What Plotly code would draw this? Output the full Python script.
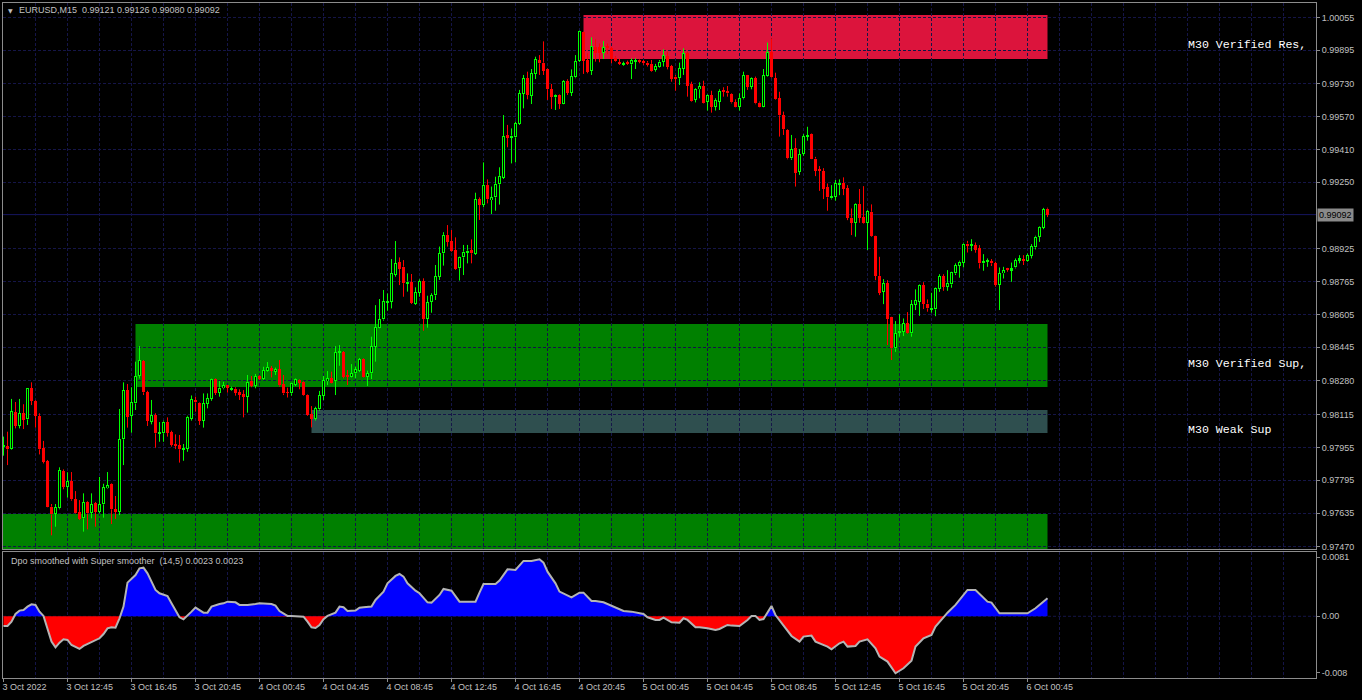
import plotly.graph_objects as go

# EURUSD M15 candles, prices in points (1e-5), bar 0 = 3 Oct 08:45
open_pts = [
    97959, 97962, 97946, 98127, 98061, 98122, 98092, 98244, 98183, 98109,
    97951, 97889, 97666, 97630, 97658, 97840, 97764, 97791, 97702, 97640,
    97609, 97690, 97637, 97682, 97641, 97677, 97755, 97777, 97654, 97641,
    97995, 98235, 98110, 98170, 98304, 98377, 98224, 98081, 98112, 98024,
    98024, 98079, 98029, 97972, 97965, 97944, 97949, 98096, 98187, 98172,
    98086, 98169, 98192, 98288, 98223, 98244, 98258, 98237, 98242, 98226,
    98216, 98203, 98281, 98257, 98304, 98288, 98330, 98343, 98325, 98336,
    98263, 98225, 98219, 98260, 98284, 98276, 98211, 98117, 98094, 98141,
    98208, 98279, 98292, 98279, 98418, 98421, 98309, 98300, 98317, 98328,
    98387, 98300, 98317, 98447, 98540, 98580, 98662, 98667, 98798, 98860,
    98838, 98757, 98761, 98656, 98711, 98768, 98582, 98665, 98698, 98789,
    98903, 98993, 98963, 98919, 98830, 98883, 98906, 98919, 98900, 99167,
    99139, 99237, 99163, 99176, 99240, 99272, 99481, 99469, 99469, 99535,
    99681, 99758, 99673, 99779, 99847, 99834, 99801, 99704, 99665, 99676,
    99632, 99745, 99688, 99762, 99842, 99982, 99847, 99793, 99912, 99909,
    99883, 99915, 99904, 99857, 99834, 99826, 99831, 99826, 99839, 99847,
    99842, 99834, 99828, 99798, 99815, 99839, 99867, 99818, 99766, 99758,
    99803, 99880, 99730, 99652, 99704, 99720, 99642, 99676, 99619, 99644,
    99697, 99696, 99679, 99642, 99619, 99660, 99772, 99717, 99759, 99639,
    99619, 99769, 99884, 99758, 99660, 99578, 99505, 99367, 99416, 99302,
    99388, 99472, 99485, 99366, 99313, 99305, 99225, 99171, 99179, 99241,
    99244, 99220, 99077, 99052, 99142, 99080, 99052, 99106, 98987, 98793,
    98715, 98756, 98590, 98439, 98515, 98520, 98561, 98512, 98653, 98666,
    98748, 98658, 98631, 98629, 98730, 98792, 98740, 98751, 98805, 98842,
    98857, 98951, 98940, 98943, 98927, 98854, 98862, 98865, 98854, 98748,
    98805, 98829, 98821, 98834, 98867, 98873, 98867, 98891, 98932, 98984,
    99029, 99121,
]
high_pts = [
    98008, 98032, 98192, 98177, 98192, 98166, 98244, 98273, 98187, 98122,
    97987, 97894, 97679, 97679, 97858, 97848, 97834, 97835, 97742, 97698,
    97731, 97694, 97731, 97689, 97811, 97778, 97835, 97780, 97718, 98143,
    98273, 98265, 98249, 98374, 98450, 98382, 98232, 98187, 98122, 98079,
    98086, 98102, 98037, 98019, 98016, 97972, 98110, 98209, 98203, 98175,
    98219, 98219, 98291, 98292, 98280, 98276, 98260, 98252, 98249, 98239,
    98235, 98309, 98304, 98314, 98307, 98349, 98372, 98353, 98345, 98382,
    98309, 98247, 98271, 98292, 98287, 98281, 98214, 98157, 98154, 98231,
    98304, 98328, 98325, 98450, 98455, 98426, 98333, 98362, 98349, 98392,
    98390, 98330, 98496, 98650, 98680, 98724, 98707, 98875, 98963, 98883,
    98870, 98805, 98802, 98737, 98776, 98781, 98696, 98708, 98846, 98936,
    99006, 99041, 99017, 98981, 98887, 98944, 98944, 98971, 99199, 99176,
    99347, 99264, 99229, 99277, 99323, 99578, 99530, 99513, 99546, 99701,
    99774, 99790, 99803, 99863, 99871, 99938, 99806, 99730, 99679, 99679,
    99749, 99753, 99801, 99871, 99990, 99985, 99880, 99958, 99948, 99928,
    99940, 99928, 99912, 99867, 99852, 99839, 99844, 99855, 99855, 99850,
    99847, 99842, 99847, 99828, 99847, 99899, 99888, 99823, 99774, 99834,
    99904, 99888, 99741, 99709, 99738, 99746, 99679, 99697, 99660, 99704,
    99714, 99720, 99684, 99655, 99684, 99790, 99774, 99762, 99766, 99644,
    99803, 99932, 99953, 99785, 99692, 99595, 99509, 99481, 99465, 99412,
    99485, 99521, 99488, 99374, 99329, 99319, 99244, 99236, 99261, 99264,
    99274, 99236, 99122, 99147, 99217, 99231, 99114, 99142, 98989, 98886,
    98777, 98772, 98593, 98572, 98606, 98585, 98616, 98675, 98727, 98751,
    98762, 98678, 98710, 98736, 98801, 98801, 98821, 98813, 98854, 98867,
    98955, 98964, 98972, 98956, 98943, 98899, 98878, 98875, 98862, 98834,
    98837, 98832, 98858, 98878, 98894, 98894, 98902, 98948, 98989, 99036,
    99125, 99126,
]
low_pts = [
    97915, 97869, 97943, 98048, 98048, 98045, 98065, 98162, 98052, 97921,
    97877, 97663, 97526, 97568, 97653, 97751, 97710, 97695, 97633, 97601,
    97544, 97555, 97609, 97568, 97633, 97612, 97752, 97581, 97606, 97625,
    97869, 98052, 98027, 98138, 98292, 98211, 98060, 98068, 97954, 97983,
    97983, 98008, 97959, 97947, 97881, 97890, 97934, 98086, 98130, 98065,
    98052, 98146, 98183, 98211, 98203, 98239, 98223, 98232, 98208, 98187,
    98102, 98125, 98249, 98244, 98284, 98284, 98325, 98297, 98309, 98252,
    98211, 98199, 98208, 98255, 98239, 98208, 98109, 98053, 98086, 98135,
    98186, 98260, 98268, 98211, 98354, 98292, 98260, 98297, 98292, 98323,
    98297, 98255, 98289, 98374, 98537, 98574, 98623, 98634, 98789, 98748,
    98691, 98716, 98656, 98651, 98691, 98525, 98540, 98613, 98675, 98773,
    98843, 98936, 98911, 98822, 98770, 98797, 98854, 98854, 98895, 99066,
    99128, 99147, 99095, 99111, 99141, 99266, 99421, 99342, 99347, 99530,
    99611, 99655, 99632, 99754, 99774, 99774, 99652, 99608, 99603, 99608,
    99631, 99676, 99671, 99758, 99837, 99779, 99782, 99774, 99839, 99836,
    99852, 99876, 99831, 99839, 99823, 99819, 99823, 99754, 99803, 99831,
    99823, 99815, 99790, 99790, 99810, 99815, 99801, 99741, 99697, 99725,
    99774, 99668, 99644, 99640, 99660, 99635, 99600, 99590, 99600, 99603,
    99668, 99668, 99635, 99616, 99600, 99655, 99701, 99704, 99631, 99616,
    99616, 99766, 99758, 99652, 99473, 99481, 99362, 99359, 99229, 99286,
    99379, 99453, 99363, 99280, 99208, 99168, 99111, 99166, 99160, 99187,
    99187, 99065, 98992, 98984, 99052, 99046, 98919, 98984, 98772, 98699,
    98655, 98455, 98382, 98422, 98496, 98499, 98509, 98496, 98626, 98598,
    98631, 98618, 98613, 98596, 98715, 98720, 98720, 98735, 98797, 98784,
    98834, 98907, 98914, 98906, 98829, 98818, 98837, 98841, 98740, 98626,
    98780, 98813, 98764, 98829, 98854, 98846, 98862, 98878, 98922, 98959,
    99021, 99080,
]
close_pts = [
    97964, 97946, 98133, 98061, 98122, 98089, 98244, 98183, 98110, 97946,
    97886, 97666, 97628, 97663, 97845, 97764, 97791, 97702, 97637, 97607,
    97687, 97633, 97677, 97641, 97679, 97762, 97770, 97653, 97641, 97995,
    98235, 98105, 98175, 98304, 98380, 98224, 98086, 98112, 98024, 98026,
    98081, 98027, 97967, 97962, 97946, 97949, 98105, 98190, 98175, 98086,
    98170, 98195, 98288, 98223, 98247, 98260, 98249, 98244, 98223, 98213,
    98203, 98276, 98257, 98302, 98289, 98332, 98346, 98328, 98338, 98258,
    98219, 98221, 98268, 98287, 98271, 98211, 98113, 98094, 98148, 98209,
    98284, 98292, 98271, 98421, 98426, 98300, 98300, 98317, 98338, 98387,
    98300, 98317, 98450, 98543, 98582, 98670, 98667, 98807, 98855, 98826,
    98757, 98765, 98662, 98714, 98768, 98582, 98665, 98698, 98792, 98903,
    98993, 98960, 98916, 98826, 98883, 98911, 98916, 98903, 99167, 99139,
    99237, 99167, 99176, 99242, 99281, 99476, 99468, 99478, 99538, 99684,
    99758, 99676, 99782, 99850, 99831, 99795, 99704, 99668, 99676, 99632,
    99745, 99688, 99769, 99842, 99987, 99842, 99790, 99917, 99880, 99880,
    99909, 99904, 99850, 99844, 99831, 99831, 99828, 99847, 99847, 99837,
    99831, 99823, 99795, 99818, 99839, 99871, 99815, 99754, 99756, 99806,
    99880, 99722, 99648, 99704, 99720, 99639, 99676, 99619, 99652, 99696,
    99691, 99684, 99640, 99619, 99662, 99772, 99717, 99758, 99635, 99619,
    99772, 99884, 99762, 99655, 99577, 99509, 99367, 99411, 99297, 99388,
    99475, 99480, 99366, 99305, 99306, 99217, 99176, 99182, 99244, 99248,
    99217, 99077, 99052, 99142, 99077, 99049, 99109, 98989, 98793, 98710,
    98756, 98582, 98439, 98512, 98525, 98561, 98512, 98655, 98675, 98748,
    98658, 98634, 98637, 98732, 98792, 98740, 98759, 98810, 98845, 98862,
    98951, 98940, 98948, 98919, 98854, 98865, 98867, 98854, 98748, 98805,
    98821, 98826, 98829, 98870, 98878, 98867, 98894, 98938, 98984, 99033,
    99119, 99092,
]

# time axis labels, one every 16 bars
time_labels = [
    "3 Oct 2022", "3 Oct 12:45", "3 Oct 16:45", "3 Oct 20:45", "4 Oct 00:45",
    "4 Oct 04:45", "4 Oct 08:45", "4 Oct 12:45", "4 Oct 16:45", "4 Oct 20:45",
    "5 Oct 00:45", "5 Oct 04:45", "5 Oct 08:45", "5 Oct 12:45", "5 Oct 16:45",
    "5 Oct 20:45", "6 Oct 00:45",
]
price_ticks = [1.00055, 0.99895, 0.99730, 0.99570, 0.99410, 0.99250, 0.98925, 0.98765,
               0.98605, 0.98445, 0.98280, 0.98115, 0.97955, 0.97795, 0.97635, 0.97470]
last_price = 0.99092

# supply / demand zones
zone_labels = ["M30 Verified Res,", "M30 Verified Sup,", "M30 Weak Sup", ""]
zone_label_price = [0.99924, 0.98366, 0.98044, None]
zone_start = [145, 33, 77, -1]
zone_top = [1.00067, 0.98558, 0.98138, 0.97630]
zone_bottom = [0.99852, 0.98250, 0.98026, 0.97400]
zone_colors = ["#DC143C", "#008000", "#2F4F4F", "#008000"]

# Dpo smoothed with Super smoother (14,5)
osc_bar = [0, 1, 2, 3, 4, 5, 6, 7, 8, 9, 10, 11, 12, 13, 14, 15, 16, 17, 19, 20,
           22, 23, 24, 25, 26, 27, 28, 29, 30, 31, 32, 33, 34, 35, 36, 37, 38, 39, 41, 42,
           43, 44, 45, 46, 47, 48, 49, 50, 51, 52, 54, 55, 56, 58, 59, 61, 63, 64, 67, 68,
           69, 71, 72, 73, 75, 76, 77, 78, 79, 80, 81, 83, 84, 85, 86, 88, 89, 90, 92, 93,
           95, 96, 98, 99, 100, 101, 103, 104, 106, 107, 109, 110, 112, 114, 115, 118, 119, 120, 123, 124,
           126, 128, 130, 132, 134, 135, 136, 138, 139, 141, 142, 144, 145, 147, 148, 150, 152, 155, 157, 160,
           161, 163, 164, 165, 167, 169, 170, 171, 173, 174, 176, 178, 179, 181, 182, 184, 186, 187, 188, 189,
           190, 192, 193, 195, 197, 199, 200, 202, 203, 206, 207, 209, 210, 211, 213, 214, 216, 218, 219, 221,
           223, 225, 227, 228, 230, 232, 233, 235, 236, 238, 240, 241, 243, 245, 246, 247, 249, 250, 255, 256,
           258, 260, 261]
osc_val = [-0.00133, -0.00133, -0.00073, 0.00032, 0.00078, 0.00087, 0.00133, 0.00165, 0.00156, 0.00064,
           0.00005, -0.00178, -0.00348, -0.00426, -0.00362, -0.00316, -0.00325, -0.00394, -0.00448, -0.00407,
           -0.00352, -0.00325, -0.00302, -0.00243, -0.00165, -0.00151, -0.00156, -0.00027, 0.00133, 0.00462,
           0.00508, 0.00567, 0.00659, 0.00668, 0.00590, 0.00476, 0.00362, 0.00316, 0.00279, 0.00178,
           0.00087, -0.00014, -0.00041, 0.00005, 0.00064, 0.00119, 0.00087, 0.00050, 0.00050, 0.00133,
           0.00169, 0.00178, 0.00201, 0.00192, 0.00156, 0.00156, 0.00169, 0.00178, 0.00169, 0.00146,
           0.00073, 0.00005, 0.00005, 0.00005, -0.00005, -0.00073, -0.00151, -0.00160, -0.00119, -0.00041,
           0.00005, 0.00050, 0.00133, 0.00124, 0.00073, 0.00078, 0.00119, 0.00124, 0.00133, 0.00224,
           0.00339, 0.00453, 0.00554, 0.00581, 0.00545, 0.00453, 0.00352, 0.00316, 0.00192, 0.00188,
           0.00293, 0.00375, 0.00352, 0.00201, 0.00201, 0.00201, 0.00325, 0.00444, 0.00444, 0.00490,
           0.00645, 0.00636, 0.00760, 0.00760, 0.00782, 0.00737, 0.00613, 0.00453, 0.00339, 0.00293,
           0.00261, 0.00325, 0.00325, 0.00210, 0.00210, 0.00192, 0.00142, 0.00073, 0.00064, 0.00032,
           -0.00014, -0.00050, -0.00050, -0.00018, -0.00082, -0.00087, -0.00027, -0.00050, -0.00151, -0.00151,
           -0.00165, -0.00188, -0.00174, -0.00119, -0.00128, -0.00133, -0.00050, 0.00005, 0.00005, -0.00050,
           -0.00037, 0.00142, 0.00018, -0.00119, -0.00270, -0.00348, -0.00279, -0.00265, -0.00348, -0.00416,
           -0.00453, -0.00371, -0.00348, -0.00416, -0.00407, -0.00348, -0.00316, -0.00439, -0.00554, -0.00622,
           -0.00782, -0.00714, -0.00609, -0.00416, -0.00302, -0.00256, -0.00142, -0.00014, 0.00050, 0.00156,
           0.00293, 0.00362, 0.00362, 0.00247, 0.00201, 0.00188, 0.00041, 0.00041, 0.00041, 0.00041,
           0.00110, 0.00210, 0.00247]

BG = "#000000"
FRAME = "#8c8c8c"
TEXT = "#c0c0c0"
GRID = "#151548"
GRIDDASH = "3px,2px"
BULL = "#00FF00"
BEAR = "#FF0000"

# pane geometry (pixels)
W, H = 1362, 700
L_M, R_M, T_M, B_M = 3, 46, 3, 22
plot_h = H - T_M - B_M
main_bottom_px, osc_top_px = 549, 552
y_range = [0.9745923, 1.0012535]
osc_range = [-0.008471, 0.008828]
x_range = [-0.125, 328.125]
px_price = (y_range[1] - y_range[0]) / (main_bottom_px - T_M)

n = len(close_pts)
o = [v / 1e5 for v in open_pts]
h = [v / 1e5 for v in high_pts]
lo = [v / 1e5 for v in low_pts]
c = [v / 1e5 for v in close_pts]
last_bar = n - 1

fig = go.Figure()

# candle bodies
for is_bull, col in ((True, BULL), (False, BEAR)):
    xs, base, hgt = [], [], []
    for i in range(n):
        if (c[i] >= o[i]) != is_bull:
            continue
        xs.append(i)
        base.append(min(o[i], c[i]))
        hgt.append(max(abs(c[i] - o[i]), px_price))
    fig.add_trace(go.Bar(x=xs, y=hgt, base=base, width=0.75, marker=dict(color=col, line=dict(width=0)),
                         hoverinfo="skip", showlegend=False))

# hollow interior of bull candles
xs, base, hgt = [], [], []
for i in range(n):
    if c[i] > o[i] and c[i] - o[i] > 2.5 * px_price:
        xs.append(i)
        base.append(o[i] + px_price)
        hgt.append(c[i] - o[i] - 2 * px_price)
fig.add_trace(go.Bar(x=xs, y=hgt, base=base, width=0.25, marker=dict(color=BG, line=dict(width=0)),
                     hoverinfo="skip", showlegend=False))

# wicks (only outside the body)
for is_bull, col in ((True, BULL), (False, BEAR)):
    wx, wy = [], []
    for i in range(n):
        if (c[i] >= o[i]) != is_bull:
            continue
        top, bot = max(o[i], c[i]), min(o[i], c[i])
        wx += [i, i, None, i, i, None]
        wy += [h[i], top, None, bot, lo[i], None]
    fig.add_trace(go.Scatter(x=wx, y=wy, mode="lines", line=dict(color=col, width=1),
                             hoverinfo="skip", showlegend=False))

# oscillator: split the curve at zero crossings for the two fills
ox, oy = [], []
for k in range(len(osc_bar)):
    if k > 0 and (osc_val[k - 1] < 0) != (osc_val[k] < 0):
        x0, y0, x1, y1 = osc_bar[k - 1], osc_val[k - 1], osc_bar[k], osc_val[k]
        ox.append(x0 + (x1 - x0) * y0 / (y0 - y1))
        oy.append(0.0)
    ox.append(osc_bar[k])
    oy.append(osc_val[k])

fig.add_trace(go.Scatter(x=ox, y=[max(v, 0) for v in oy], mode="lines", fill="tozeroy",
                         fillcolor="#0000FF", line=dict(width=0, color="#0000FF"),
                         xaxis="x2", yaxis="y2", hoverinfo="skip", showlegend=False))
fig.add_trace(go.Scatter(x=ox, y=[min(v, 0) for v in oy], mode="lines", fill="tozeroy",
                         fillcolor="#FF0000", line=dict(width=0, color="#FF0000"),
                         xaxis="x2", yaxis="y2", hoverinfo="skip", showlegend=False))
fig.add_trace(go.Scatter(x=osc_bar, y=osc_val, mode="lines", line=dict(color="#b4b4b4", width=2),
                         xaxis="x2", yaxis="y2", hoverinfo="skip", showlegend=False))

# zones
shapes = []
for k in range(len(zone_top)):
    shapes.append(dict(type="rect", xref="x", yref="y", x0=zone_start[k], x1=last_bar,
                       y0=zone_bottom[k], y1=zone_top[k], fillcolor=zone_colors[k],
                       line=dict(width=0), layer="below"))
shapes.append(dict(type="line", xref="paper", yref="y", x0=0, x1=1, y0=last_price, y1=last_price,
                   line=dict(color="#161660", width=1), layer="below"))
shapes.append(dict(type="line", xref="paper", yref="y2", x0=0, x1=1, y0=0, y1=0,
                   line=dict(color=GRID, width=1, dash=GRIDDASH), layer="below"))


def paper_x(px):
    return (px - L_M) / (W - L_M - R_M)


def paper_y(py):
    return (H - B_M - py) / plot_h


ui_font = dict(family="Liberation Sans, Arial, sans-serif", size=9, color=TEXT)
mono = dict(family="Liberation Mono, Courier New, monospace", size=11.6, color="#ffffff")

annotations = [
    dict(xref="paper", yref="paper", x=paper_x(6), y=paper_y(10.5), text="\u25bc", showarrow=False,
         xanchor="left", yanchor="middle", font=dict(family="DejaVu Sans", size=6, color=TEXT)),
    dict(xref="paper", yref="paper", x=paper_x(16.5), y=paper_y(10.5),
         text="EURUSD,M15\u00a0\u00a00.99121 0.99126 0.99080 0.99092", showarrow=False,
         xanchor="left", yanchor="middle", font=ui_font),
    dict(xref="paper", yref="paper", x=paper_x(9), y=paper_y(561),
         text="Dpo smoothed with Super smoother\u00a0\u00a0(14,5) 0.0023 0.0023", showarrow=False,
         xanchor="left", yanchor="middle", font=ui_font),
    dict(xref="paper", yref="y", x=1, xshift=1, y=last_price, text="0.99092", showarrow=False,
         xanchor="left", yanchor="middle", bgcolor="#8a8a8a", borderpad=1,
         font=dict(family="Liberation Sans, Arial, sans-serif", size=9, color="#000000")),
]
for k in range(len(zone_labels)):
    if zone_labels[k]:
        annotations.append(dict(xref="x", yref="y", x=295.7, y=zone_label_price[k], text=zone_labels[k],
                                showarrow=False, xanchor="left", yanchor="middle", font=mono))

tick_bars = [16 * k for k in range(len(time_labels))]
xcommon = dict(range=x_range, showline=True, mirror=True, linecolor=FRAME, linewidth=1,
               showgrid=True, gridcolor=GRID, griddash=GRIDDASH, zeroline=False,
               tickvals=tick_bars, fixedrange=True, automargin=False,
               minor=dict(tick0=0, dtick=8, showgrid=True, gridcolor=GRID, griddash=GRIDDASH, ticks=""))

fig.update_layout(
    width=W, height=H,
    margin=dict(l=L_M, r=R_M, t=T_M, b=B_M, autoexpand=False),
    paper_bgcolor=BG, plot_bgcolor=BG,
    barmode="overlay", bargap=0,
    showlegend=False,
    shapes=shapes,
    annotations=annotations,
    xaxis=dict(xcommon, anchor="y", showticklabels=False, ticks=""),
    xaxis2=dict(xcommon, anchor="y2", matches="x", ticktext=time_labels, showticklabels=True,
                ticks="outside", ticklen=3, tickcolor=FRAME, ticklabelposition="outside right",
                ticklabelshift=-2, tickfont=ui_font),
    yaxis=dict(domain=[paper_y(main_bottom_px), 1], range=y_range, side="right",
               tickvals=price_ticks, ticktext=[f"{v:.5f}" for v in price_ticks],
               ticks="outside", ticklen=3, tickcolor=FRAME, tickfont=ui_font, automargin=False,
               showgrid=True, gridcolor=GRID, griddash=GRIDDASH, zeroline=False,
               showline=True, mirror=True, linecolor=FRAME, linewidth=1, fixedrange=True),
    yaxis2=dict(domain=[0, paper_y(osc_top_px)], range=osc_range, side="right",
                tickvals=[0.0081, 0.0, -0.00775], ticktext=["0.0081", "0.00", "-0.008"],
                ticks="outside", ticklen=3, tickcolor=FRAME, tickfont=ui_font, automargin=False,
                showgrid=False, zeroline=False,
                showline=True, mirror=True, linecolor=FRAME, linewidth=1, fixedrange=True),
)

# the page body has a default margin; remove it so the figure sits at the window origin
fig.write_html("out.html", config={"displayModeBar": False},
               post_script="document.body.style.margin='0';document.body.style.background='#000';")
